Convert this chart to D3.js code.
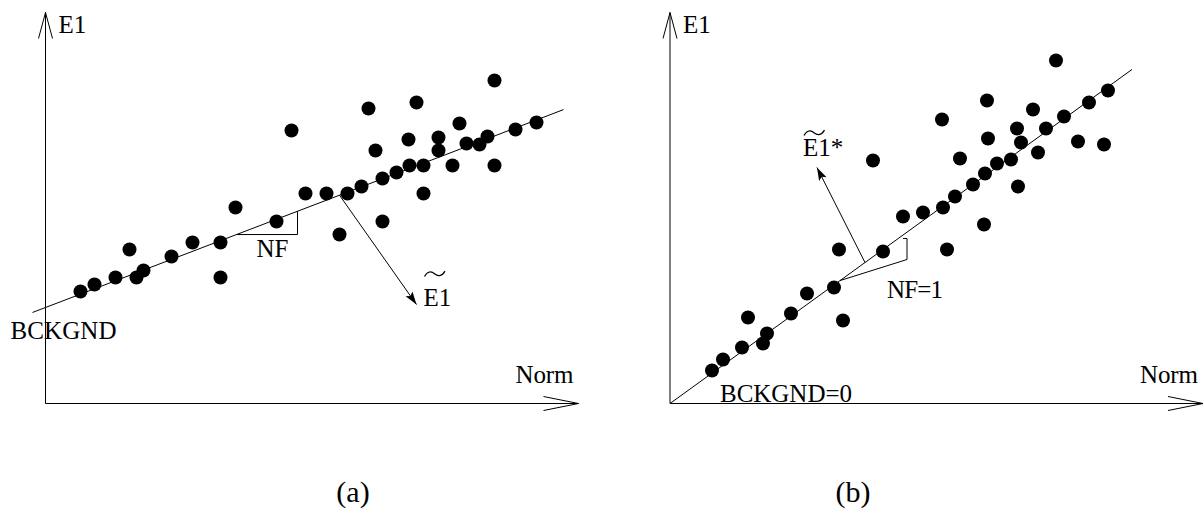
<!DOCTYPE html>
<html>
<head>
<meta charset="utf-8">
<script src="https://cdn.jsdelivr.net/npm/d3@7"></script>
<style>
  html, body { margin: 0; padding: 0; background: #fff; }
  svg { display: block; }
  text { font-family: "Liberation Serif", "Times New Roman", serif; fill: #000; }
</style>
</head>
<body>
<svg id="fig" width="1204" height="515"></svg>
<script>
// Events as (Norm, E1) pairs, arbitrary units.
// (a): raw scale with a background offset
const dotsA = [
  [44.9, 32.3], [37.1, 30.1], [32.3, 29.5], [24.6, 27.3], [41.4, 28.0],
  [49.1, 28.1], [47.0, 27.4], [36.3, 26.4], [39.3, 26.6], [42.1, 26.0],
  [43.4, 25.9], [44.2, 26.7], [33.0, 25.3], [39.3, 25.3], [36.4, 23.8],
  [37.8, 23.8], [40.7, 23.8], [44.9, 23.8], [35.1, 23.1], [33.7, 22.5],
  [31.6, 21.7], [26.0, 21.0], [28.1, 21.0], [30.2, 21.0], [37.8, 21.0],
  [19.0, 19.6], [23.1, 18.2], [33.7, 18.2], [29.4, 16.9], [8.4, 15.4],
  [14.7, 16.1], [17.5, 16.1], [12.6, 14.7], [9.8, 13.3], [9.1, 12.6],
  [7.0, 12.6], [17.5, 12.6], [4.9, 11.9], [3.5, 11.2]
];
// (b): after background subtraction and normalisation
const dotsB = [
  [38.6, 34.3], [43.8, 31.3], [31.7, 30.3], [41.9, 30.1], [36.3, 29.4],
  [27.2, 28.4], [39.4, 28.7], [31.8, 26.5], [35.1, 26.1], [40.8, 26.2],
  [43.4, 25.9], [34.7, 27.5], [37.6, 27.5], [36.8, 25.1], [20.3, 24.3],
  [29.0, 24.5], [34.1, 24.4], [32.7, 24.0], [31.5, 23.0], [34.8, 21.7],
  [30.3, 21.9], [28.5, 20.7], [27.3, 19.6], [25.3, 19.1], [23.3, 18.7],
  [31.4, 17.9], [27.7, 15.4], [16.9, 15.4], [21.3, 15.2], [16.4, 11.6],
  [13.7, 11.0], [12.1, 9.0], [7.8, 8.6], [17.3, 8.3], [9.7, 7.0],
  [9.3, 6.0], [7.2, 5.6], [5.3, 4.4], [4.2, 3.3]
];

// Straight-line fits: [background (intercept), normalisation factor (slope)]
const fitA = [9.6, 0.382];
const fitB = [0.0, 0.723];
const fitSpanA = [-1.3, 51.8];
const fitSpanB = [0.0, 46.2];

// Slope triangle of (a): x of the two corners on the horizontal leg
const slopeLegA = [19.1, 25.2];
// Slope bracket of (b): start x on the fit, then corner, top, tick
const slopeLegB = [17.0, [23.7, 14.4], [23.7, 16.5], [23.3, 16.5]];

// Residual direction vectors: start x on the fit, tip
const vectorA = [29.4, [37.1, 9.9]];
const vectorB = [19.5, [14.7, 23.6]];

const axisMax = [53.3, 39.1];
const axisTitles = ["Norm", "E1"];
const fitLabelsA = ["BCKGND", "NF"];
const fitLabelsB = ["BCKGND=0", "NF=1"];
const vectorLabels = ["E1", "E1*"];
const captions = ["(a)", "(b)"];

const FS = 25; // label font size

const svg = d3.select("#fig");

// filled arrow head for the direction vectors
svg.append("defs").append("marker")
  .attr("id", "head")
  .attr("markerUnits", "userSpaceOnUse")
  .attr("markerWidth", 14).attr("markerHeight", 10)
  .attr("refX", 13).attr("refY", 5)
  .attr("orient", "auto")
  .append("path")
  .attr("d", "M0,0.8 L13,5 L0,9.2 L2.5,5 Z")
  .attr("fill", "#000");

function panel(left, bottom) {
  const x = d3.scaleLinear().domain([0, axisMax[0]]).range([left, left + 533]);
  const y = d3.scaleLinear().domain([0, axisMax[1]]).range([bottom, bottom - 391]);
  return { x, y, g: svg.append("g") };
}

function drawAxes(p) {
  const { x, y, g } = p;
  const x0 = x(0), y0 = y(0), xr = x(axisMax[0]), yt = y(axisMax[1]);
  const ax = g.append("g").attr("fill", "none").attr("stroke", "#000").attr("stroke-width", 1);
  ax.append("line").attr("x1", x0).attr("y1", y0).attr("x2", x0).attr("y2", yt);
  ax.append("line").attr("x1", x0).attr("y1", y0).attr("x2", xr).attr("y2", y0);
  // open arrow heads
  ax.append("polyline").attr("points", [[x0 - 7, yt + 26], [x0, yt], [x0 + 7, yt + 26]].join(" "));
  ax.append("polyline").attr("points", [[xr - 35, y0 - 7], [xr, y0], [xr - 35, y0 + 7]].join(" "));
  g.append("text").attr("x", x0 + 13).attr("y", yt + 20).attr("font-size", FS).text(axisTitles[1]);
  g.append("text").attr("x", xr - 5).attr("y", y0 - 21).attr("text-anchor", "end")
    .attr("font-size", FS).attr("textLength", 58).text(axisTitles[0]);
}

function drawFit(p, fit, span) {
  const { x, y, g } = p;
  const f = v => fit[0] + fit[1] * v;
  g.append("line")
    .attr("x1", x(span[0])).attr("y1", y(f(span[0])))
    .attr("x2", x(span[1])).attr("y2", y(f(span[1])))
    .attr("stroke", "#000").attr("stroke-width", 1);
  return f;
}

function drawVector(p, f, vec) {
  const { x, y, g } = p;
  g.append("line")
    .attr("x1", x(vec[0])).attr("y1", y(f(vec[0])))
    .attr("x2", x(vec[1][0])).attr("y2", y(vec[1][1]))
    .attr("stroke", "#000").attr("stroke-width", 1)
    .attr("marker-end", "url(#head)");
}

function drawDots(p, dots) {
  const { x, y, g } = p;
  g.append("g").selectAll("circle").data(dots).join("circle")
    .attr("cx", d => x(d[0])).attr("cy", d => y(d[1])).attr("r", 7)
    .attr("fill", "#000");
}

// label with a wide tilde accent drawn above it
function tildeLabel(g, px, py, label, lift) {
  g.append("text").attr("x", px).attr("y", py).attr("font-size", FS).text(label);
  g.append("path")
    .attr("transform", `translate(${px + 1},${py - lift})`)
    .attr("d", "M0,6 C3,0.5 7,0.5 10,3.2 S17,6.5 20.5,0.6")
    .attr("fill", "none").attr("stroke", "#000").attr("stroke-width", 1.2);
}

// ---------- (a) ----------
const pa = panel(45.5, 403.5);
drawAxes(pa);
const fa = drawFit(pa, fitA, fitSpanA);
{
  const { x, y, g } = pa;
  const yl = y(fa(slopeLegA[0]));
  g.append("polyline")
    .attr("points", [[x(slopeLegA[0]), yl], [x(slopeLegA[1]), yl], [x(slopeLegA[1]), y(fa(slopeLegA[1]))]].join(" "))
    .attr("fill", "none").attr("stroke", "#000").attr("stroke-width", 1);
  g.append("text").attr("x", x(slopeLegA[0]) + 20).attr("y", yl + 22).attr("font-size", FS).text(fitLabelsA[1]);
  g.append("text").attr("x", x(fitSpanA[0]) - 22).attr("y", y(fa(fitSpanA[0])) + 27)
    .attr("font-size", FS).attr("textLength", 106).text(fitLabelsA[0]);
}
drawVector(pa, fa, vectorA);
drawDots(pa, dotsA);
tildeLabel(pa.g, pa.x(vectorA[1][0]) + 7, pa.y(vectorA[1][1]) + 1, vectorLabels[0], 35);

// ---------- (b) ----------
const pb = panel(670, 403.5);
drawAxes(pb);
const fb = drawFit(pb, fitB, fitSpanB);
{
  const { x, y, g } = pb;
  const pts = [[x(slopeLegB[0]), y(fb(slopeLegB[0]))]]
    .concat(slopeLegB.slice(1).map(d => [x(d[0]), y(d[1])]));
  g.append("polyline").attr("points", pts.join(" "))
    .attr("fill", "none").attr("stroke", "#000").attr("stroke-width", 1);
  g.append("text").attr("x", x(slopeLegB[1][0]) - 20).attr("y", y(slopeLegB[1][1]) + 38)
    .attr("font-size", FS).attr("textLength", 56).text(fitLabelsB[1]);
  g.append("text").attr("x", x(0) + 50).attr("y", y(0) - 2)
    .attr("font-size", FS).attr("textLength", 132).text(fitLabelsB[0]);
}
drawVector(pb, fb, vectorB);
drawDots(pb, dotsB);
tildeLabel(pb.g, pb.x(vectorB[1][0]) - 14, pb.y(vectorB[1][1]) - 12, vectorLabels[1], 26);

// ---------- captions ----------
svg.selectAll("text.caption").data(captions).join("text")
  .attr("class", "caption")
  .attr("x", (d, i) => [353, 853][i]).attr("y", 502)
  .attr("text-anchor", "middle").attr("font-size", 30)
  .text(d => d);
</script>
</body>
</html>
